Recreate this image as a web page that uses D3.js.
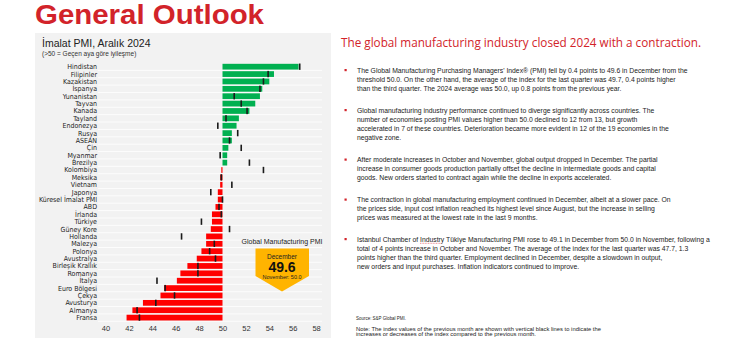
<!DOCTYPE html>
<html>
<head>
<meta charset="utf-8">
<script src="https://cdn.jsdelivr.net/npm/d3@7"></script>
<style>
  body { margin: 0; background: #fff; }
  svg { display: block; font-family: "Liberation Sans", Arial, sans-serif; }
</style>
</head>
<body>
<svg id="chart" width="740" height="350"></svg>
<script>
// Manufacturing PMI, December 2024 (bars) and November 2024 (black marks)
const countries = ["Hindistan", "Filipinler", "Kazakistan", "İspanya", "Yunanistan", "Tayvan", "Kanada",
  "Tayland", "Endonezya", "Rusya", "ASEAN", "Çin", "Myanmar", "Brezilya", "Kolombiya", "Meksika",
  "Vietnam", "Japonya", "Küresel İmalat PMI", "ABD", "İrlanda", "Türkiye", "Güney Kore", "Hollanda",
  "Malezya", "Polonya", "Avustralya", "Birleşik Krallık", "Romanya", "İtalya", "Euro Bölgesi",
  "Çekya", "Avusturya", "Almanya", "Fransa"];
const decValues = [56.5, 54.4, 54.0, 53.4, 53.2, 52.8, 52.3, 51.4, 51.2, 50.8, 50.8, 50.5, 50.4, 50.4,
  49.9, 49.8, 49.8, 49.6, 49.6, 49.4, 49.1, 49.1, 49.0, 48.6, 48.6, 48.2, 47.8, 47.0, 46.4, 46.1,
  45.0, 44.7, 43.2, 42.3, 41.8];
const novValues = [56.6, 53.9, 53.5, 53.2, 51.0, 51.6, 52.1, 50.3, 49.6, 51.3, 50.6, 51.6, 49.8, 52.3,
  53.5, 49.9, 50.8, 49.0, 50.0, 49.7, 49.9, 48.2, 50.6, 46.5, 49.3, 48.9, 49.4, 47.9, 47.9, 44.4,
  45.1, 45.9, 44.3, 42.7, 42.9];
const xTicks = [40, 42, 44, 46, 48, 50, 52, 54, 56, 58];

const bullets = [
  ["The Global Manufacturing Purchasing Managers' Index® (PMI) fell by 0.4 points to 49.6 in December from the",
   "threshold 50.0. On the other hand, the average of the index for the last quarter was 49.7, 0.4 points higher",
   "than the third quarter. The 2024 average was 50.0, up 0.8 points from the previous year."],
  ["Global manufacturing industry performance continued to diverge significantly across countries. The",
   "number of economies posting PMI values higher than 50.0 declined to 12 from 13, but growth",
   "accelerated in 7 of these countries. Deterioration became more evident in 12 of the 19 economies in the",
   "negative zone."],
  ["After moderate increases in October and November, global output dropped in December. The partial",
   "increase in consumer goods production partially offset the decline in intermediate goods and capital",
   "goods. New orders started to contract again while the decline in exports accelerated."],
  ["The contraction in global manufacturing employment continued in December, albeit at a slower pace. On",
   "the prices side, input cost inflation reached its highest level since August, but the increase in selling",
   "prices was measured at the lowest rate in the last 9 months."],
  ["Istanbul Chamber of Industry Tükiye Manufacturing PMI rose to 49.1 in December from 50.0 in November, following a",
   "total of 4 points increase in October and November. The average of the index for the last quarter was 47.7, 1.3",
   "points higher than the third quarter. Employment declined in December, despite a slowdown in output,",
   "new orders and input purchases. Inflation indicators continued to improve."]
];
const bulletTop = [72.5, 112.5, 162, 202, 241.5];

const svg = d3.select("#chart");
const red = "#d2232a";

// Page title
svg.append("text")
  .attr("x", 35).attr("y", 23.5)
  .attr("textLength", 229).attr("lengthAdjust", "spacingAndGlyphs")
  .style("font-size", "27px").style("font-weight", "bold")
  .style("fill", red)
  .text("General Outlook");

// Chart panel
svg.append("rect")
  .attr("x", 35).attr("y", 33).attr("width", 296).attr("height", 305)
  .attr("fill", "#f2f2f2");

svg.append("text")
  .attr("x", 42).attr("y", 47)
  .style("font-size", "10.5px").style("fill", "#222")
  .text("İmalat PMI, Aralık 2024");
svg.append("text")
  .attr("x", 42).attr("y", 56)
  .style("font-size", "6.5px").style("fill", "#333")
  .text("(>50 = Geçen aya göre iyileşme)");

// Scales
const x = d3.scaleLinear().domain([40, 58]).range([105.5, 316.1]);
const y = d3.scaleBand().domain(countries).range([63, 321.3]).paddingInner(0.22).paddingOuter(0.11);
const step = y.step();

// Row separators
svg.append("g").selectAll("line")
  .data(countries)
  .join("line")
  .attr("x1", 98).attr("x2", 322)
  .attr("y1", d => y(d) - (step - y.bandwidth()) / 2 + step)
  .attr("y2", d => y(d) - (step - y.bandwidth()) / 2 + step)
  .attr("stroke", "#ffffff").attr("stroke-width", 0.8);

// Country labels
svg.append("g").selectAll("text")
  .data(countries)
  .join("text")
  .attr("x", 97)
  .attr("y", d => y(d) + y.bandwidth() / 2)
  .attr("dy", "0.35em")
  .attr("text-anchor", "end")
  .style("font-family", "'Liberation Sans Narrow', 'DejaVu Sans Condensed', sans-serif")
  .style("font-size", "7px").style("fill", "#222")
  .text(d => d);

// Bars from the 50 threshold
svg.append("g").selectAll("rect")
  .data(countries)
  .join("rect")
  .attr("x", (d, i) => x(Math.min(50, decValues[i])))
  .attr("width", (d, i) => Math.abs(x(decValues[i]) - x(50)))
  .attr("y", d => y(d))
  .attr("height", y.bandwidth())
  .attr("fill", (d, i) => decValues[i] >= 50 ? "#00b050" : "#ff0000");

// Previous month marks
svg.append("g").selectAll("rect")
  .data(countries)
  .join("rect")
  .attr("x", (d, i) => x(novValues[i]) - 0.8)
  .attr("width", 1.6)
  .attr("y", d => y(d) - 0.3)
  .attr("height", y.bandwidth() + 0.6)
  .attr("fill", "#1a1a1a");

// X axis (labels only)
const xAxis = svg.append("g")
  .attr("transform", "translate(0,322)")
  .call(d3.axisBottom(x).tickValues(xTicks).tickSize(0).tickPadding(4));
xAxis.select(".domain").remove();
xAxis.selectAll("text").style("font-size", "7.5px").style("fill", "#333")
  .style("font-family", "'Liberation Sans', sans-serif");

// Global PMI callout
svg.append("text")
  .attr("x", 282).attr("y", 243.5)
  .attr("text-anchor", "middle")
  .style("font-size", "7px").style("fill", "#222")
  .text("Global Manufacturing PMI");
const p = d3.path();
p.moveTo(255.5, 248.5); p.lineTo(309, 248.5); p.lineTo(309, 276);
p.lineTo(282, 291.5); p.lineTo(255.5, 276); p.closePath();
svg.append("path").attr("d", p.toString()).attr("fill", "#ffb400");
svg.append("text")
  .attr("x", 282).attr("y", 258.5).attr("text-anchor", "middle")
  .style("font-size", "6.5px").style("fill", "#222")
  .text("December");
svg.append("text")
  .attr("x", 282).attr("y", 272).attr("text-anchor", "middle")
  .style("font-size", "14px").style("font-weight", "bold").style("fill", "#111")
  .text(decValues[countries.indexOf("Küresel İmalat PMI")].toFixed(1));
svg.append("text")
  .attr("x", 282).attr("y", 278.5).attr("text-anchor", "middle")
  .style("font-size", "5.5px").style("fill", "#222")
  .text("November: " + novValues[countries.indexOf("Küresel İmalat PMI")].toFixed(1));

// Right side headline
svg.append("text")
  .attr("x", 341).attr("y", 46.5)
  .attr("textLength", 360).attr("lengthAdjust", "spacingAndGlyphs")
  .style("font-family", "'Open Sans', 'Noto Sans', sans-serif")
  .style("font-size", "13px").style("fill", red)
  .text("The global manufacturing industry closed 2024 with a contraction.");

// Bulleted commentary
const lineGap = 9;
bullets.forEach((lines, b) => {
  svg.append("rect")
    .attr("x", 344.5).attr("y", bulletTop[b] - 3.5)
    .attr("width", 2.2).attr("height", 2.2)
    .attr("fill", red);
  const t = svg.append("text")
    .style("font-size", "6.8px").style("fill", "#222");
  lines.forEach((line, k) => {
    t.append("tspan")
      .attr("x", 357).attr("y", bulletTop[b] + k * lineGap)
      .text(line);
  });
});

// Spell-check underline under "Tükiye"
svg.append("line")
  .attr("x1", 420).attr("x2", 441).attr("y1", 243.3).attr("y2", 243.3)
  .attr("stroke", red).attr("stroke-width", 0.5).attr("stroke-dasharray", "1,0.6");

// Source and note
svg.append("text")
  .attr("x", 356).attr("y", 320)
  .attr("textLength", 50).attr("lengthAdjust", "spacingAndGlyphs")
  .style("font-size", "5.4px").style("fill", "#222")
  .text("Source: S&P Global PMI.");
const note = svg.append("text").style("font-size", "5.4px").style("fill", "#222");
note.append("tspan").attr("x", 356).attr("y", 330.5)
  .attr("textLength", 245).attr("lengthAdjust", "spacingAndGlyphs")
  .text("Note: The index values of the previous month are shown with vertical black lines to indicate the");
note.append("tspan").attr("x", 356).attr("y", 336)
  .attr("textLength", 180).attr("lengthAdjust", "spacingAndGlyphs")
  .text("increases or decreases of the index compared to the previous month.");
</script>
</body>
</html>
